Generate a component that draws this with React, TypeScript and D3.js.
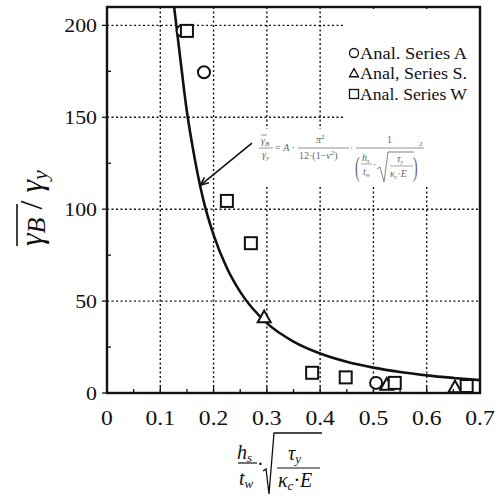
import React from 'react';
import { scaleLinear, line, curveMonotoneX, range } from 'd3';

const xTicks = [0, 0.1, 0.2, 0.3, 0.4, 0.5, 0.6, 0.7];
const yTicks = [0, 50, 100, 150, 200];
const xGrid = [0.1, 0.2, 0.3, 0.4, 0.5, 0.6];
const yGrid = [50, 100, 150, 200];

const seriesAx = [0.142, 0.182, 0.505];
const seriesAy = [197, 174.5, 5.5];
const seriesSx = [0.295, 0.525, 0.653];
const seriesSy = [41, 4.3, 3.0];
const seriesWx = [0.15, 0.225, 0.27, 0.385, 0.448, 0.54, 0.675];
const seriesWy = [197, 104.5, 81.5, 11, 8.5, 5.5, 3.8];

// design curve
const curveX = [0.126, 0.14, 0.15, 0.16, 0.18, 0.2, 0.225, 0.25, 0.3, 0.35, 0.4, 0.45, 0.5, 0.55, 0.6, 0.65, 0.7];
const curveY = [210, 176, 153, 135, 106, 86, 68, 55, 38, 28, 21.5, 17, 13.8, 11.4, 9.6, 8.2, 7.0];

const legendLabels = ['Anal. Series A', 'Anal, Series S.', 'Anal. Series W'];

const W = 501, H = 497;
const L = 107, R = 480, T = 7, B = 393;
const FONT = 'Liberation Serif';

function Marker({ kind, cx, cy, s, sw }: { kind: string; cx: number; cy: number; s: number; sw: number }) {
  if (kind === 'circle') return <circle cx={cx} cy={cy} r={s / 2} fill="white" stroke="#111" strokeWidth={sw} />;
  if (kind === 'tri') {
    const h = s * 0.9;
    return <path d={`M${cx},${cy - h * 0.6}L${cx + s / 2},${cy + h * 0.4}L${cx - s / 2},${cy + h * 0.4}Z`} fill="white" stroke="#111" strokeWidth={sw} />;
  }
  return <rect x={cx - s / 2} y={cy - s / 2} width={s} height={s} fill="white" stroke="#111" strokeWidth={sw} />;
}

export default function App() {
  const x = scaleLinear().domain([0, 0.7]).range([L, R]);
  const y = scaleLinear().domain([0, 210]).range([B, T]);

  const curvePath = line<number>()
    .x((d, i) => x(curveX[i]))
    .y((d, i) => y(curveY[i]))
    .curve(curveMonotoneX)(curveY) as string;

  const minorX = range(0.05, 0.7, 0.1);
  const minorY = [25, 75, 125, 175];

  // arrow annotation (data coords)
  const arrTip = [x(0.175), y(113)];
  const arrTail = [x(0.272), y(136)];
  const ang = Math.atan2(arrTip[1] - arrTail[1], arrTip[0] - arrTail[0]);
  const ah = 9;
  const a1 = [arrTip[0] - ah * Math.cos(ang - 0.4), arrTip[1] - ah * Math.sin(ang - 0.4)];
  const a2 = [arrTip[0] - ah * Math.cos(ang + 0.4), arrTip[1] - ah * Math.sin(ang + 0.4)];

  const fc = '#666';

  return (
    <svg width={W} height={H} style={{ position: 'absolute', left: 0, top: 0 }}>
      <rect width={W} height={H} fill="white" />
      {/* grid */}
      {xGrid.map(v => (
        <line key={'gx' + v} x1={x(v)} x2={x(v)} y1={T} y2={B} stroke="#111" strokeWidth={1.4} strokeDasharray="2,2.5" />
      ))}
      {yGrid.map(v => (
        <line key={'gy' + v} x1={L} x2={R} y1={y(v)} y2={y(v)} stroke="#111" strokeWidth={1.4} strokeDasharray="2,2.5" />
      ))}
      {/* blank boxes behind legend and formula */}
      <rect x={344} y={T + 2} width={R - 345} height={125} fill="white" />
      <rect x={256} y={129} width={R - 257} height={57} fill="white" />

      {/* curve */}
      <path d={curvePath} fill="none" stroke="#111" strokeWidth={2.6} />

      {/* points */}
      {seriesAx.map((v, i) => <Marker key={'a' + i} kind="circle" cx={x(v)} cy={y(seriesAy[i])} s={12} sw={2} />)}
      {seriesSx.map((v, i) => <Marker key={'s' + i} kind="tri" cx={x(v)} cy={y(seriesSy[i])} s={13} sw={2} />)}
      {seriesWx.map((v, i) => <Marker key={'w' + i} kind="rect" cx={x(v)} cy={y(seriesWy[i])} s={12} sw={2} />)}

      {/* arrow */}
      <line x1={arrTail[0]} y1={arrTail[1]} x2={arrTip[0]} y2={arrTip[1]} stroke="#111" strokeWidth={1.6} />
      <path d={`M${a1[0]},${a1[1]}L${arrTip[0]},${arrTip[1]}L${a2[0]},${a2[1]}`} fill="none" stroke="#111" strokeWidth={1.6} />

      {/* frame */}
      <rect x={L} y={T} width={R - L} height={B - T} fill="none" stroke="#111" strokeWidth={2.4} />

      {/* ticks */}
      {minorX.map(v => <line key={'mx' + v} x1={x(v)} x2={x(v)} y1={B} y2={B - 4} stroke="#111" strokeWidth={1.3} />)}
      {xTicks.map(v => <line key={'tx' + v} x1={x(v)} x2={x(v)} y1={B} y2={B - 6} stroke="#111" strokeWidth={1.3} />)}
      {minorY.map(v => <line key={'my' + v} x1={L} x2={L + 4} y1={y(v)} y2={y(v)} stroke="#111" strokeWidth={1.3} />)}
      {yTicks.map(v => <line key={'ty' + v} x1={L - 5} x2={L} y1={y(v)} y2={y(v)} stroke="#111" strokeWidth={1.3} />)}

      {/* tick labels */}
      <g fontFamily={FONT} fill="#111">
        {xTicks.map(v => (
          <text key={'lx' + v} transform={`translate(${x(v)},425) scale(1.18,1)`} fontSize={20} textAnchor="middle">{v === 0 ? '0' : v.toFixed(1)}</text>
        ))}
        {yTicks.map(v => (
          <text key={'ly' + v} transform={`translate(97,${y(v) + 6.5}) scale(1.15,1)`} fontSize={19} textAnchor="end">{v}</text>
        ))}
      </g>

      {/* legend */}
      <g fontFamily={FONT}>
        {legendLabels.map((lab, i) => {
          const cy = 53 + i * 20.5;
          const kind = i === 0 ? 'circle' : i === 1 ? 'tri' : 'rect';
          return (
            <g key={lab}>
              <Marker kind={kind} cx={354} cy={cy} s={9} sw={1.3} />
              <text x={360} y={cy + 5.5} fontSize={16} fill="#111" textLength={107} lengthAdjust="spacingAndGlyphs">{lab}</text>
            </g>
          );
        })}
      </g>

      {/* formula */}
      <g fill={fc} fontSize={10} fontStyle="italic" fontFamily={FONT}>
        <text x={261} y={144}>γ<tspan fontSize={7} dy={2}>B</tspan></text>
        <line x1={261} x2={267} y1={135} y2={135} stroke={fc} strokeWidth={0.7} />
        <line x1={259} x2={273} y1={148} y2={148} stroke={fc} strokeWidth={0.7} />
        <text x={262} y={158}>γ<tspan fontSize={7} dy={2}>y</tspan></text>
        <text x={275} y={151}><tspan fontStyle="normal">= </tspan>A<tspan fontStyle="normal"> ·</tspan></text>
        <text x={316} y={143}>π<tspan fontSize={7} dy={-4} fontStyle="normal">2</tspan></text>
        <line x1={298} x2={349} y1={148} y2={148} stroke={fc} strokeWidth={0.7} />
        <text x={299} y={159}><tspan fontStyle="normal">12·(1−</tspan>ν<tspan fontSize={7} dy={-4} fontStyle="normal">2</tspan><tspan dy={4} fontStyle="normal">)</tspan></text>
        <text x={350} y={151} fontStyle="normal">·</text>
        <text x={387} y={143} fontStyle="normal">1</text>
        <line x1={356} x2={424} y1={148} y2={148} stroke={fc} strokeWidth={0.7} />
        <text x={355} y={176} fontSize={28} fontStyle="normal" transform="translate(355,176) scale(0.5,1) translate(-355,-176)">(</text>
        <text x={413} y={176} fontSize={28} fontStyle="normal" transform="translate(413,176) scale(0.5,1) translate(-413,-176)">)</text>
        <text x={419} y={146} fontSize={7} fontStyle="normal">2</text>
        <text x={362} y={161}>h<tspan fontSize={6} dy={2}>s</tspan></text>
        <line x1={361} x2={372} y1={164} y2={164} stroke={fc} strokeWidth={0.6} />
        <text x={363} y={175}>t<tspan fontSize={6} dy={2}>w</tspan></text>
        <text x={373} y={168} fontStyle="normal">·</text>
        <path d="M377,169L380,167L384,182L388,152L414,152" fill="none" stroke={fc} strokeWidth={0.8} />
        <text x={397} y={162}>τ<tspan fontSize={6} dy={2}>y</tspan></text>
        <line x1={390} x2={413} y1={166} y2={166} stroke={fc} strokeWidth={0.6} />
        <text x={390} y={177}>κ<tspan fontSize={6} dy={2}>c</tspan><tspan dy={-2} fontStyle="normal">·</tspan>E</text>
      </g>

      {/* y axis title */}
      <g transform="translate(42,200) rotate(-90)" fill="#111" fontStyle="italic" fontFamily={FONT}>
        <text x={-46} y={0} fontSize={32}>γ<tspan fontSize={26} dy={3}>B</tspan><tspan fontStyle="normal" dy={-3}> / </tspan>γ<tspan fontSize={22} dy={5}>y</tspan></text>
        <line x1={-46} x2={-4} y1={-25} y2={-25} stroke="#111" strokeWidth={1.6} />
      </g>

      {/* x axis title */}
      <g fill="#111" fontStyle="italic" fontFamily={FONT}>
        <text x={237} y={459} fontSize={20}>h<tspan fontSize={13} dy={3}>s</tspan></text>
        <line x1={238} x2={257} y1={463} y2={463} stroke="#111" strokeWidth={1.2} />
        <text x={239} y={485} fontSize={20}>t<tspan fontSize={13} dy={3}>w</tspan></text>
        <text x={257} y={471} fontSize={20} fontStyle="normal">·</text>
        <path d="M263,471L266,469L269,494L274,433L322,433" fill="none" stroke="#111" strokeWidth={1.3} />
        <text x={288} y={460} fontSize={20}>τ<tspan fontSize={13} dy={3}>y</tspan></text>
        <line x1={277} x2={320} y1={468} y2={468} stroke="#111" strokeWidth={1.2} />
        <text x={278} y={487} fontSize={20}>κ<tspan fontSize={13} dy={3}>c</tspan><tspan dy={-3} fontStyle="normal">·</tspan>E</text>
      </g>
    </svg>
  );
}
